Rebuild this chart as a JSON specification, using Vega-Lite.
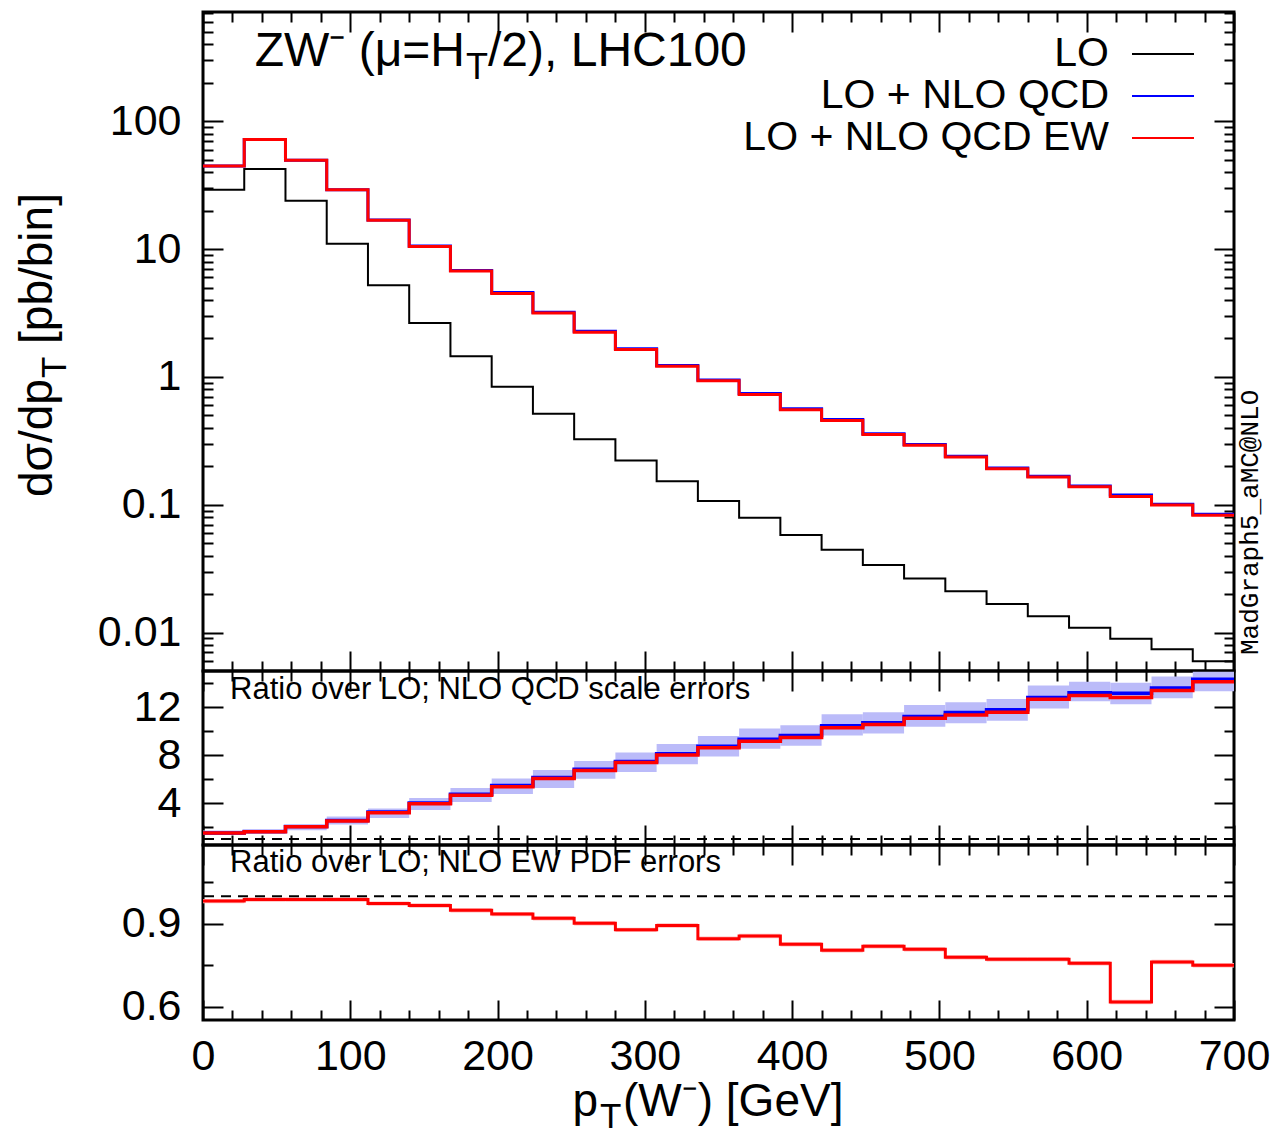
{
  "$schema": "https://vega.github.io/schema/vega-lite/v6.json",
  "padding": {"left": 13, "top": 9, "right": 5, "bottom": 5},
  "background": "white",
  "datasets": {
    "edges": [
      {"pt": 0, "lo": 29.1, "qcd": 44.7, "ew": 44.7, "rqcd": 1.50, "rew": 1.50, "pdf": 0.982},
      {"pt": 28, "lo": 42.3, "qcd": 72.1, "ew": 72.1, "rqcd": 1.62, "rew": 1.61, "pdf": 0.988},
      {"pt": 56, "lo": 23.9, "qcd": 49.5, "ew": 49.5, "rqcd": 2.05, "rew": 2.03, "pdf": 0.988},
      {"pt": 84, "lo": 11.0, "qcd": 29.2, "ew": 29.1, "rqcd": 2.55, "rew": 2.51, "pdf": 0.988},
      {"pt": 112, "lo": 5.22, "qcd": 16.9, "ew": 16.8, "rqcd": 3.24, "rew": 3.19, "pdf": 0.973},
      {"pt": 140, "lo": 2.64, "qcd": 10.6, "ew": 10.5, "rqcd": 4.00, "rew": 3.94, "pdf": 0.966},
      {"pt": 168, "lo": 1.45, "qcd": 6.82, "ew": 6.75, "rqcd": 4.72, "rew": 4.65, "pdf": 0.949},
      {"pt": 196, "lo": 0.838, "qcd": 4.58, "ew": 4.49, "rqcd": 5.46, "rew": 5.35, "pdf": 0.935},
      {"pt": 224, "lo": 0.516, "qcd": 3.20, "ew": 3.16, "rqcd": 6.13, "rew": 6.05, "pdf": 0.920},
      {"pt": 252, "lo": 0.326, "qcd": 2.28, "ew": 2.24, "rqcd": 6.81, "rew": 6.70, "pdf": 0.902},
      {"pt": 280, "lo": 0.222, "qcd": 1.66, "ew": 1.64, "rqcd": 7.46, "rew": 7.37, "pdf": 0.878},
      {"pt": 308, "lo": 0.153, "qcd": 1.23, "ew": 1.21, "rqcd": 8.10, "rew": 7.99, "pdf": 0.894},
      {"pt": 336, "lo": 0.107, "qcd": 0.948, "ew": 0.935, "rqcd": 8.72, "rew": 8.60, "pdf": 0.846},
      {"pt": 364, "lo": 0.0791, "qcd": 0.742, "ew": 0.728, "rqcd": 9.31, "rew": 9.14, "pdf": 0.856},
      {"pt": 392, "lo": 0.0579, "qcd": 0.563, "ew": 0.553, "rqcd": 9.62, "rew": 9.45, "pdf": 0.826},
      {"pt": 420, "lo": 0.0444, "qcd": 0.464, "ew": 0.456, "rqcd": 10.44, "rew": 10.27, "pdf": 0.804},
      {"pt": 448, "lo": 0.0338, "qcd": 0.359, "ew": 0.354, "rqcd": 10.69, "rew": 10.55, "pdf": 0.819},
      {"pt": 476, "lo": 0.0265, "qcd": 0.296, "ew": 0.292, "rqcd": 11.20, "rew": 11.06, "pdf": 0.808},
      {"pt": 504, "lo": 0.0210, "qcd": 0.240, "ew": 0.236, "rqcd": 11.54, "rew": 11.34, "pdf": 0.779},
      {"pt": 532, "lo": 0.0167, "qcd": 0.194, "ew": 0.191, "rqcd": 11.77, "rew": 11.57, "pdf": 0.772},
      {"pt": 560, "lo": 0.0134, "qcd": 0.167, "ew": 0.165, "rqcd": 12.79, "rew": 12.64, "pdf": 0.772},
      {"pt": 588, "lo": 0.0109, "qcd": 0.140, "ew": 0.138, "rqcd": 13.18, "rew": 12.95, "pdf": 0.757},
      {"pt": 616, "lo": 0.00894, "qcd": 0.119, "ew": 0.116, "rqcd": 13.15, "rew": 12.79, "pdf": 0.617},
      {"pt": 644, "lo": 0.00741, "qcd": 0.101, "ew": 0.0993, "rqcd": 13.58, "rew": 13.38, "pdf": 0.762},
      {"pt": 672, "lo": 0.00596, "qcd": 0.0841, "ew": 0.0829, "rqcd": 14.31, "rew": 14.11, "pdf": 0.750},
      {"pt": 700, "lo": 0.00596, "qcd": 0.0841, "ew": 0.0829, "rqcd": 14.31, "rew": 14.11, "pdf": 0.750}
    ],
    "bins": [
      {"pt0": 0, "pt1": 28, "bandlo": 1.33, "bandhi": 1.70, "pdflo": 0.974, "pdfhi": 0.990},
      {"pt0": 28, "pt1": 56, "bandlo": 1.42, "bandhi": 1.75, "pdflo": 0.980, "pdfhi": 0.996},
      {"pt0": 56, "pt1": 84, "bandlo": 1.72, "bandhi": 2.17, "pdflo": 0.980, "pdfhi": 0.996},
      {"pt0": 84, "pt1": 112, "bandlo": 2.20, "bandhi": 2.88, "pdflo": 0.980, "pdfhi": 0.996},
      {"pt0": 112, "pt1": 140, "bandlo": 2.74, "bandhi": 3.55, "pdflo": 0.965, "pdfhi": 0.981},
      {"pt0": 140, "pt1": 168, "bandlo": 3.41, "bandhi": 4.42, "pdflo": 0.958, "pdfhi": 0.974},
      {"pt0": 168, "pt1": 196, "bandlo": 4.08, "bandhi": 5.24, "pdflo": 0.941, "pdfhi": 0.957},
      {"pt0": 196, "pt1": 224, "bandlo": 4.76, "bandhi": 6.05, "pdflo": 0.927, "pdfhi": 0.943},
      {"pt0": 224, "pt1": 252, "bandlo": 5.26, "bandhi": 6.75, "pdflo": 0.912, "pdfhi": 0.928},
      {"pt0": 252, "pt1": 280, "bandlo": 6.02, "bandhi": 7.51, "pdflo": 0.894, "pdfhi": 0.910},
      {"pt0": 280, "pt1": 308, "bandlo": 6.58, "bandhi": 8.21, "pdflo": 0.870, "pdfhi": 0.886},
      {"pt0": 308, "pt1": 336, "bandlo": 7.23, "bandhi": 8.92, "pdflo": 0.886, "pdfhi": 0.902},
      {"pt0": 336, "pt1": 364, "bandlo": 7.88, "bandhi": 9.59, "pdflo": 0.838, "pdfhi": 0.854},
      {"pt0": 364, "pt1": 392, "bandlo": 8.52, "bandhi": 10.21, "pdflo": 0.848, "pdfhi": 0.864},
      {"pt0": 392, "pt1": 420, "bandlo": 8.77, "bandhi": 10.47, "pdflo": 0.818, "pdfhi": 0.834},
      {"pt0": 420, "pt1": 448, "bandlo": 9.62, "bandhi": 11.40, "pdflo": 0.796, "pdfhi": 0.812},
      {"pt0": 448, "pt1": 476, "bandlo": 9.79, "bandhi": 11.57, "pdflo": 0.811, "pdfhi": 0.827},
      {"pt0": 476, "pt1": 504, "bandlo": 10.36, "bandhi": 12.16, "pdflo": 0.800, "pdfhi": 0.816},
      {"pt0": 504, "pt1": 532, "bandlo": 10.64, "bandhi": 12.39, "pdflo": 0.771, "pdfhi": 0.787},
      {"pt0": 532, "pt1": 560, "bandlo": 10.86, "bandhi": 12.67, "pdflo": 0.764, "pdfhi": 0.780},
      {"pt0": 560, "pt1": 588, "bandlo": 11.88, "bandhi": 13.80, "pdflo": 0.764, "pdfhi": 0.780},
      {"pt0": 588, "pt1": 616, "bandlo": 12.47, "bandhi": 14.11, "pdflo": 0.749, "pdfhi": 0.765},
      {"pt0": 616, "pt1": 644, "bandlo": 12.22, "bandhi": 14.03, "pdflo": 0.609, "pdfhi": 0.625},
      {"pt0": 644, "pt1": 672, "bandlo": 12.73, "bandhi": 14.54, "pdflo": 0.754, "pdfhi": 0.770},
      {"pt0": 672, "pt1": 700, "bandlo": 13.32, "bandhi": 14.93, "pdflo": 0.742, "pdfhi": 0.758}
    ]
  },
  "spacing": 0,
  "bounds": "flush",
  "vconcat": [
    {
      "width": 1031,
      "height": 659,
      "resolve": {"axis": {"x": "independent", "y": "independent"}},
      "layer": [
        {
          "data": {"name": "edges"},
          "mark": {"type": "line", "interpolate": "step-after", "strokeWidth": 2, "clip": true},
          "encoding": {
            "x": {"field": "pt", "type": "quantitative", "scale": {"domain": [0, 700], "nice": false, "zero": false},
                  "axis": {"orient": "bottom", "values": [0,100,200,300,400,500,600,700], "tickSize": -20, "labels": false, "title": null}},
            "y": {"field": "lo", "type": "quantitative", "scale": {"type": "log", "domain": [0.005, 717], "nice": false},
                  "axis": {"orient": "left", "values": [0.01,0.1,1,10,100], "tickSize": -20, "labelPadding": 42, "format": "~g", "title": null}},
            "color": {"datum": "LO", "type": "nominal",
                      "scale": {"domain": ["LO", "LO + NLO QCD", "LO + NLO QCD EW"], "range": ["#000000", "#0000ff", "#ff0000"]},
                      "legend": {"orient": "none", "legendX": 938, "legendY": 20, "title": null, "symbolType": "M-1.5,0H1.5", "symbolSize": 1708, "symbolStrokeWidth": 2, "symbolFillColor": "transparent", "labelAlign": "right", "labelOffset": -76, "labelFontSize": 41, "labelFont": "Liberation Sans", "labelColor": "black", "labelLimit": 0, "rowPadding": 0, "padding": 0}}
          }
        },
        {
          "data": {"name": "edges"},
          "mark": {"type": "line", "interpolate": "step-after", "strokeWidth": 3, "clip": true},
          "encoding": {
            "x": {"field": "pt", "type": "quantitative", "scale": {"domain": [0, 700], "nice": false, "zero": false},
                  "axis": {"orient": "top", "values": [0,100,200,300,400,500,600,700], "tickSize": -20, "labels": false, "title": null}},
            "y": {"field": "qcd", "type": "quantitative", "scale": {"type": "log", "domain": [0.005, 717], "nice": false},
                  "axis": {"orient": "right", "values": [0.01,0.1,1,10,100], "tickSize": -20, "labels": false, "title": null}},
            "color": {"datum": "LO + NLO QCD", "type": "nominal"}
          }
        },
        {
          "data": {"name": "edges"},
          "mark": {"type": "line", "interpolate": "step-after", "strokeWidth": 3, "clip": true},
          "encoding": {
            "x": {"field": "pt", "type": "quantitative", "scale": {"domain": [0, 700], "nice": false, "zero": false},
                  "axis": {"orient": "bottom", "values": [20,40,60,80,120,140,160,180,220,240,260,280,320,340,360,380,420,440,460,480,520,540,560,580,620,640,660,680], "tickSize": -10, "labels": false, "title": null}},
            "y": {"field": "ew", "type": "quantitative", "scale": {"type": "log", "domain": [0.005, 717], "nice": false},
                  "axis": {"orient": "left", "values": [0.006,0.007,0.008,0.009,0.02,0.03,0.04,0.05,0.06,0.07,0.08,0.09,0.2,0.3,0.4,0.5,0.6,0.7,0.8,0.9,2,3,4,5,6,7,8,9,20,30,40,50,60,70,80,90,200,300,400,500,600,700], "tickSize": -10, "labels": false, "title": null}},
            "color": {"datum": "LO + NLO QCD EW", "type": "nominal"}
          }
        },
        {
          "data": {"values": [{}]},
          "mark": {"type": "text", "text": "ZW⁻ (μ=H", "align": "right", "baseline": "alphabetic", "font": "Liberation Sans", "fontSize": 48, "color": "black", "dx": 262, "dy": 54},
          "encoding": {
            "x": {"datum": 0, "type": "quantitative", "scale": {"domain": [0, 700], "nice": false, "zero": false},
                  "axis": {"orient": "top", "values": [20,40,60,80,120,140,160,180,220,240,260,280,320,340,360,380,420,440,460,480,520,540,560,580,620,640,660,680], "tickSize": -10, "labels": false, "title": null}},
            "y": {"datum": 717, "type": "quantitative", "scale": {"type": "log", "domain": [0.005, 717], "nice": false},
                  "axis": {"orient": "right", "values": [0.006,0.007,0.008,0.009,0.02,0.03,0.04,0.05,0.06,0.07,0.08,0.09,0.2,0.3,0.4,0.5,0.6,0.7,0.8,0.9,2,3,4,5,6,7,8,9,20,30,40,50,60,70,80,90,200,300,400,500,600,700], "tickSize": -10, "labels": false, "title": null}}
          }
        },
        {
          "data": {"values": [{}]},
          "mark": {"type": "text", "text": "T", "align": "left", "baseline": "alphabetic", "font": "Liberation Sans", "fontSize": 36, "color": "black", "dx": 263, "dy": 67},
          "encoding": {
            "x": {"datum": 0, "type": "quantitative", "axis": null},
            "y": {"datum": 717, "type": "quantitative", "axis": null}
          }
        },
        {
          "data": {"values": [{}]},
          "mark": {"type": "text", "text": "/2), LHC100", "align": "left", "baseline": "alphabetic", "font": "Liberation Sans", "fontSize": 48, "color": "black", "dx": 285, "dy": 54},
          "encoding": {
            "x": {"datum": 0, "type": "quantitative", "axis": null},
            "y": {"datum": 717, "type": "quantitative", "axis": null}
          }
        },
        {
          "data": {"values": [{}]},
          "mark": {"type": "text", "text": "dσ/dp", "angle": 270, "align": "left", "baseline": "alphabetic", "font": "Liberation Sans", "fontSize": 46, "color": "black", "dx": 0, "dy": -151},
          "encoding": {
            "x": {"datum": 0, "type": "quantitative", "axis": null},
            "y": {"datum": 0.115, "type": "quantitative", "axis": null}
          }
        },
        {
          "data": {"values": [{}]},
          "mark": {"type": "text", "text": "T", "angle": 270, "align": "left", "baseline": "alphabetic", "font": "Liberation Sans", "fontSize": 35, "color": "black", "dx": 119, "dy": -137},
          "encoding": {
            "x": {"datum": 0, "type": "quantitative", "axis": null},
            "y": {"datum": 0.115, "type": "quantitative", "axis": null}
          }
        },
        {
          "data": {"values": [{}]},
          "mark": {"type": "text", "text": "[pb/bin]", "angle": 270, "align": "left", "baseline": "alphabetic", "font": "Liberation Sans", "fontSize": 46, "color": "black", "dx": 153, "dy": -151},
          "encoding": {
            "x": {"datum": 0, "type": "quantitative", "axis": null},
            "y": {"datum": 0.115, "type": "quantitative", "axis": null}
          }
        },
        {
          "data": {"values": [{}]},
          "mark": {"type": "text", "text": "MadGraph5_aMC@NLO", "angle": 270, "align": "left", "baseline": "alphabetic", "font": "Liberation Mono", "fontSize": 26, "color": "black", "dx": 16, "dy": 24},
          "encoding": {
            "x": {"datum": 700, "type": "quantitative", "axis": null},
            "y": {"datum": 0.005, "type": "quantitative", "axis": null}
          }
        }
      ]
    },
    {
      "width": 1031,
      "height": 174,
      "resolve": {"axis": {"x": "independent", "y": "independent"}},
      "layer": [
        {
          "data": {"name": "bins"},
          "mark": {"type": "rect", "color": "#bbbbf9", "clip": true},
          "encoding": {
            "x": {"field": "pt0", "type": "quantitative", "scale": {"domain": [0, 700], "nice": false, "zero": false},
                  "axis": {"orient": "bottom", "values": [0,100,200,300,400,500,600,700], "tickSize": -20, "labels": false, "title": null}},
            "x2": {"field": "pt1"},
            "y": {"field": "bandlo", "type": "quantitative", "scale": {"domain": [0.5, 15], "nice": false, "zero": false},
                  "axis": {"orient": "left", "values": [4, 8, 12], "tickSize": -20, "labelPadding": 42, "format": "~g", "title": null}},
            "y2": {"field": "bandhi"}
          }
        },
        {
          "data": {"name": "edges"},
          "mark": {"type": "line", "interpolate": "step-after", "strokeWidth": 3.5, "color": "#0000ff", "clip": true},
          "encoding": {
            "x": {"field": "pt", "type": "quantitative", "scale": {"domain": [0, 700], "nice": false, "zero": false},
                  "axis": {"orient": "top", "values": [0,100,200,300,400,500,600,700], "tickSize": -20, "labels": false, "title": null}},
            "y": {"field": "rqcd", "type": "quantitative", "scale": {"domain": [0.5, 15], "nice": false, "zero": false},
                  "axis": {"orient": "right", "values": [4, 8, 12], "tickSize": -20, "labels": false, "title": null}}
          }
        },
        {
          "data": {"name": "edges"},
          "mark": {"type": "line", "interpolate": "step-after", "strokeWidth": 3.5, "color": "#ff0000", "clip": true},
          "encoding": {
            "x": {"field": "pt", "type": "quantitative", "scale": {"domain": [0, 700], "nice": false, "zero": false},
                  "axis": {"orient": "bottom", "values": [20,40,60,80,120,140,160,180,220,240,260,280,320,340,360,380,420,440,460,480,520,540,560,580,620,640,660,680], "tickSize": -10, "labels": false, "title": null}},
            "y": {"field": "rew", "type": "quantitative", "scale": {"domain": [0.5, 15], "nice": false, "zero": false},
                  "axis": {"orient": "left", "values": [2, 6, 10, 14], "tickSize": -10, "labels": false, "title": null}}
          }
        },
        {
          "data": {"values": [{}]},
          "mark": {"type": "rule", "color": "black", "strokeWidth": 2, "strokeDash": [10, 7]},
          "encoding": {
            "y": {"datum": 1, "type": "quantitative", "axis": null}
          }
        },
        {
          "data": {"values": [{}]},
          "mark": {"type": "text", "text": "Ratio over LO; NLO QCD scale errors", "align": "left", "baseline": "alphabetic", "font": "Liberation Sans", "fontSize": 31, "color": "black", "dx": 27, "dy": 28},
          "encoding": {
            "x": {"datum": 0, "type": "quantitative", "scale": {"domain": [0, 700], "nice": false, "zero": false},
                  "axis": {"orient": "top", "values": [20,40,60,80,120,140,160,180,220,240,260,280,320,340,360,380,420,440,460,480,520,540,560,580,620,640,660,680], "tickSize": -10, "labels": false, "title": null}},
            "y": {"datum": 15, "type": "quantitative", "scale": {"domain": [0.5, 15], "nice": false, "zero": false},
                  "axis": {"orient": "right", "values": [2, 6, 10, 14], "tickSize": -10, "labels": false, "title": null}}
          }
        }
      ]
    },
    {
      "width": 1031,
      "height": 175,
      "resolve": {"axis": {"x": "independent", "y": "independent"}},
      "layer": [
        {
          "data": {"name": "bins"},
          "mark": {"type": "rect", "color": "#ffbcbc", "clip": true},
          "encoding": {
            "x": {"field": "pt0", "type": "quantitative", "scale": {"domain": [0, 700], "nice": false, "zero": false},
                  "axis": {"orient": "bottom", "values": [0,100,200,300,400,500,600,700], "tickSize": -20, "labelPadding": 35, "labelFontSize": 43, "format": "d", "title": null}},
            "x2": {"field": "pt1"},
            "y": {"field": "pdflo", "type": "quantitative", "scale": {"domain": [0.552, 1.185], "nice": false, "zero": false},
                  "axis": {"orient": "left", "values": [0.6, 0.9], "tickSize": -20, "labelPadding": 42, "format": "~g", "title": null}},
            "y2": {"field": "pdfhi"}
          }
        },
        {
          "data": {"name": "edges"},
          "mark": {"type": "line", "interpolate": "step-after", "strokeWidth": 3, "color": "#ff0000", "clip": true},
          "encoding": {
            "x": {"field": "pt", "type": "quantitative", "scale": {"domain": [0, 700], "nice": false, "zero": false},
                  "axis": {"orient": "top", "values": [0,100,200,300,400,500,600,700], "tickSize": -20, "labels": false, "title": null}},
            "y": {"field": "pdf", "type": "quantitative", "scale": {"domain": [0.552, 1.185], "nice": false, "zero": false},
                  "axis": {"orient": "right", "values": [0.6, 0.9], "tickSize": -20, "labels": false, "title": null}}
          }
        },
        {
          "data": {"values": [{}]},
          "mark": {"type": "rule", "color": "black", "strokeWidth": 2, "strokeDash": [10, 7]},
          "encoding": {
            "y": {"datum": 1, "type": "quantitative", "axis": null}
          }
        },
        {
          "data": {"values": [{}]},
          "mark": {"type": "text", "text": "Ratio over LO; NLO EW PDF errors", "align": "left", "baseline": "alphabetic", "font": "Liberation Sans", "fontSize": 31, "color": "black", "dx": 27, "dy": 27},
          "encoding": {
            "x": {"datum": 0, "type": "quantitative", "scale": {"domain": [0, 700], "nice": false, "zero": false},
                  "axis": {"orient": "bottom", "values": [20,40,60,80,120,140,160,180,220,240,260,280,320,340,360,380,420,440,460,480,520,540,560,580,620,640,660,680], "tickSize": -10, "labels": false, "title": null}},
            "y": {"datum": 1.185, "type": "quantitative", "scale": {"domain": [0.552, 1.185], "nice": false, "zero": false},
                  "axis": {"orient": "left", "values": [0.75, 1.05], "tickSize": -10, "labels": false, "title": null}}
          }
        },
        {
          "data": {"values": [{}]},
          "mark": {"type": "text", "text": "p", "align": "right", "baseline": "alphabetic", "font": "Liberation Sans", "fontSize": 46, "color": "black", "dx": 395, "dy": 96},
          "encoding": {
            "x": {"datum": 0, "type": "quantitative", "axis": {"orient": "top", "values": [20,40,60,80,120,140,160,180,220,240,260,280,320,340,360,380,420,440,460,480,520,540,560,580,620,640,660,680], "tickSize": -10, "labels": false, "title": null}},
            "y": {"datum": 0.552, "type": "quantitative", "axis": {"orient": "right", "values": [0.75, 1.05], "tickSize": -10, "labels": false, "title": null}}
          }
        },
        {
          "data": {"values": [{}]},
          "mark": {"type": "text", "text": "T", "align": "left", "baseline": "alphabetic", "font": "Liberation Sans", "fontSize": 35, "color": "black", "dx": 397, "dy": 108},
          "encoding": {
            "x": {"datum": 0, "type": "quantitative", "axis": null},
            "y": {"datum": 0.552, "type": "quantitative", "axis": null}
          }
        },
        {
          "data": {"values": [{}]},
          "mark": {"type": "text", "text": "(W⁻) [GeV]", "align": "left", "baseline": "alphabetic", "font": "Liberation Sans", "fontSize": 46, "color": "black", "dx": 420, "dy": 96},
          "encoding": {
            "x": {"datum": 0, "type": "quantitative", "axis": null},
            "y": {"datum": 0.552, "type": "quantitative", "axis": null}
          }
        }
      ]
    }
  ],
  "config": {
    "view": {"stroke": "black", "strokeWidth": 3},
    "axis": {"domain": false, "grid": false, "tickColor": "black", "tickWidth": 2, "labelFont": "Liberation Sans", "labelFontSize": 43, "labelColor": "black", "minExtent": 0, "labelOverlap": false, "labelFlush": false, "labelAngle": 0, "zindex": 1}
  }
}
